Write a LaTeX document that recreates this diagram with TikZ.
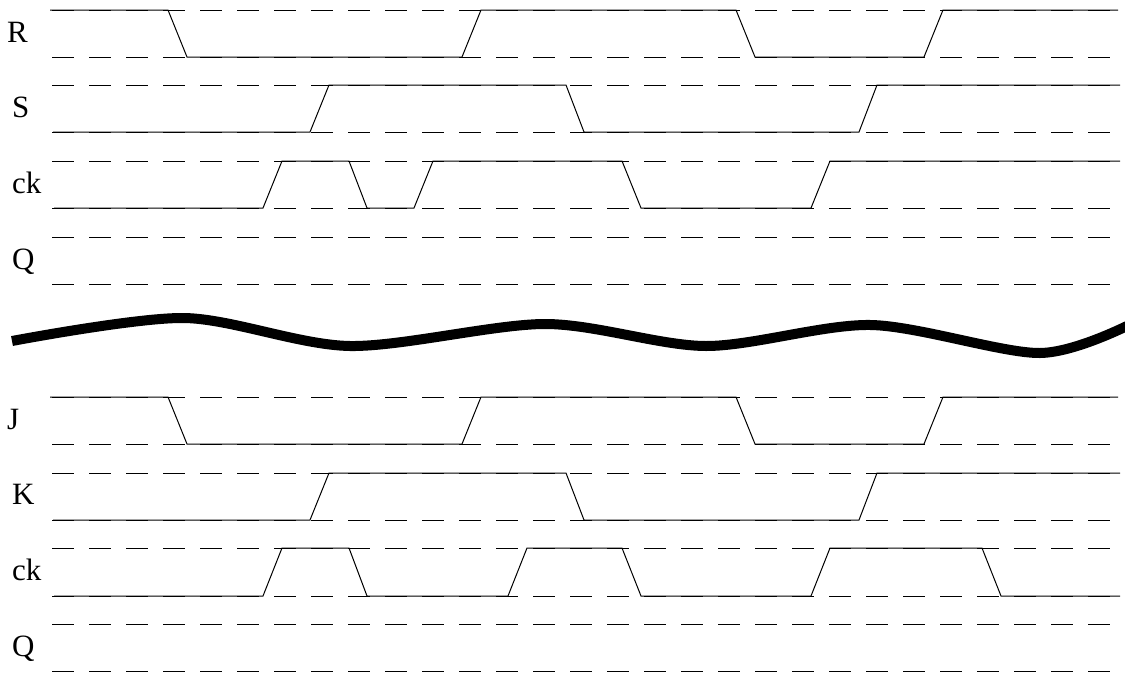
\documentclass[tikz,border=0pt]{standalone}
\usepackage{fontspec}
\setmainfont{Liberation Serif}
\begin{document}
\begin{tikzpicture}[
                    x=1pt, y=-1pt,
                    guide/.style={line width=1pt, dash pattern=on 22pt off 15pt},
                    signal/.style={line width=1pt},
                    rowlabel/.style={anchor=base west, inner sep=0pt, font=\fontsize{31}{35}\selectfont},
                    cut/.style={line width=10pt},
                ]
                \useasboundingbox (0,0) rectangle (1125,675);
                % dashed high/low levels of every row
                \foreach \hi/\lo in {10/57, 85/132, 161/208, 237/284, 397/444, 473/520, 548/596, 624/671} {
                    \draw[guide] (52,\hi) -- (1120,\hi);
                    \draw[guide] (52,\lo) -- (1120,\lo);
                }
                % names of the rows
                \node[rowlabel] (r) at (7,42) {R};
                \node[rowlabel] (s) at (12,117) {S};
                \node[rowlabel] (ck1) at (12,193) {ck};
                \node[rowlabel] (q1) at (12,269) {Q};
                \node[rowlabel] (j) at (7,429) {J};
                \node[rowlabel] (k) at (12,504) {K};
                \node[rowlabel] (ck2) at (12,580) {ck};
                \node[rowlabel] (q2) at (12,656) {Q};
                % upper part
                \draw[signal] (50,10) -- (168,10) -- (187,57) -- (462,57) -- (481,10) -- (736,10)
                    -- (755,57) -- (924,57) -- (943,10) -- (1118,10);
                \draw[signal] (53,132) -- (310,132) -- (329,85) -- (566,85) -- (584,132) -- (859,132)
                    -- (877,85) -- (1120,85);
                \draw[signal] (54,208) -- (263,208) -- (282,161) -- (349,161) -- (367,208) -- (414,208)
                    -- (433,161) -- (622,161) -- (641,208) -- (811,208) -- (830,161) -- (1120,161);
                % break between the two parts
                \draw[cut] plot[smooth, tension=0.5] coordinates {(12,341) (184,318) (350,346) (545,324)
                    (706,346) (871,325) (1040,353) (1135,322)};
                % lower part
                \draw[signal] (50,397) -- (168,397) -- (187,444) -- (462,444) -- (481,397) -- (736,397)
                    -- (755,444) -- (924,444) -- (943,397) -- (1118,397);
                \draw[signal] (53,520) -- (310,520) -- (329,473) -- (566,473) -- (584,520) -- (859,520)
                    -- (877,473) -- (1120,473);
                \draw[signal] (54,596) -- (263,596) -- (282,548) -- (349,548) -- (367,596) -- (508,596)
                    -- (527,548) -- (622,548) -- (641,596) -- (811,596) -- (830,548) -- (982,548)
                    -- (1001,596) -- (1120,596);
                \end{tikzpicture}
\end{document}
